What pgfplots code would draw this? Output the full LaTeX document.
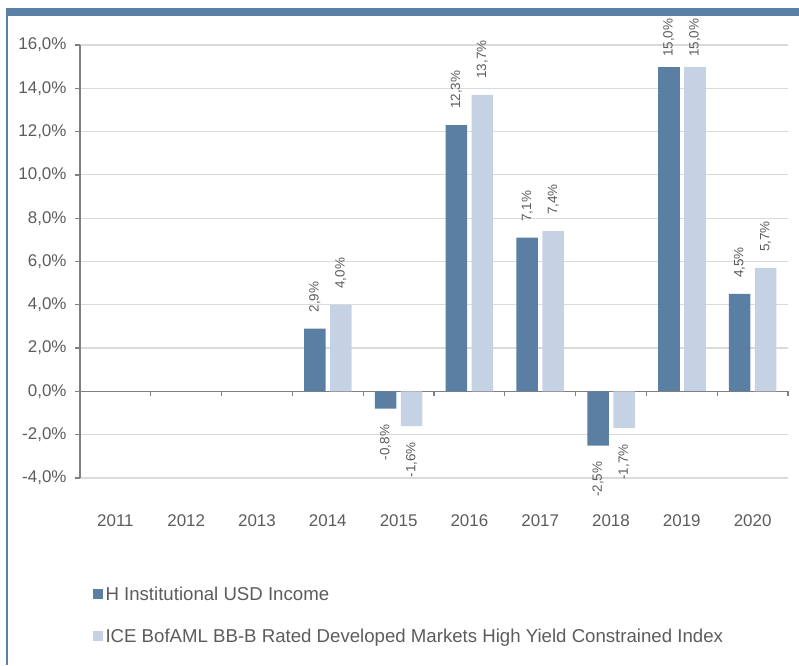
\documentclass[border=0pt]{standalone}
\usepackage{pgfplots}
\usepackage{pgfplotstable}
\pgfplotsset{compat=1.18}
\usepackage{fontspec}
\setmainfont{Liberation Sans}
\definecolor{darkbar}{RGB}{91,127,163}
\definecolor{lightbar}{RGB}{197,210,227}
\definecolor{txt}{RGB}{92,92,92}
\definecolor{gridc}{RGB}{218,218,218}
\definecolor{axc}{RGB}{128,128,128}
\definecolor{framec}{RGB}{91,128,165}

% fund, positive years
\pgfplotstableread{
x y lab
3 2.9 {2,9\%}
5 12.3 {12,3\%}
6 7.1 {7,1\%}
9 4.5 {4,5\%}
}\fundpos
% fund, 2019 (label squeezed under the top)
\pgfplotstableread{
x y lab
8 15.0 {15,0\%}
}\fundtop
% fund, negative years
\pgfplotstableread{
x y lab
4 -0.8 {-0,8\%}
7 -2.5 {-2,5\%}
}\fundneg
% index, positive years
\pgfplotstableread{
x y lab
3 4.0 {4,0\%}
5 13.7 {13,7\%}
6 7.4 {7,4\%}
9 5.7 {5,7\%}
}\idxpos
% index, 2019
\pgfplotstableread{
x y lab
8 15.0 {15,0\%}
}\idxtop
% index, negative years
\pgfplotstableread{
x y lab
4 -1.6 {-1,6\%}
7 -1.7 {-1,7\%}
}\idxneg

\pgfplotsset{
  vlab/.style 2 args={nodes near coords, point meta=explicit symbolic,
    every node near coord/.append style={rotate=90, anchor=#1, inner xsep=#2, inner ysep=0bp,
      font=\fontsize{13.5}{15}\selectfont, text=txt}},
}

\begin{document}
\begin{tikzpicture}
\path (0,0) rectangle (799bp,665bp);
\fill[framec] (6bp,649bp) rectangle (799bp,657bp);
\draw[framec, line width=2bp] (7bp,0) -- (7bp,657bp);
\begin{axis}[
  at={(80bp,187bp)}, anchor=south west,
  scale only axis, width=708bp, height=433bp,
  xmin=-0.5, xmax=9.5, ymin=-4, ymax=16,
  ybar, bar width=21.5bp,
  axis y line*=left, axis x line*=middle,
  axis line style={draw=axc, line width=1.3bp},
  hide obscured x ticks=false,
  xtick={-0.5,0.5,...,9.5},
  x tick label as interval,
  xticklabels={2011,2012,2013,2014,2015,2016,2017,2018,2019,2020},
  xticklabel style={anchor=center, yshift=-124bp, font=\fontsize{17}{20}\selectfont, text=txt},
  ytick={-4,-2,...,16},
  yticklabels={{-4,0\%},{-2,0\%},{0,0\%},{2,0\%},{4,0\%},{6,0\%},{8,0\%},{10,0\%},{12,0\%},{14,0\%},{16,0\%}},
  yticklabel style={font=\fontsize{17}{20}\selectfont, text=txt, xshift=-5bp},
  tick align=outside,
  major tick length=5bp,
  tick style={draw=axc, line width=1.3bp},
  ymajorgrids, xmajorgrids=false,
  grid style={draw=gridc, line width=1.2bp},
  legend image code/.code={\fill[#1] (0bp,-3bp) rectangle (10bp,7bp);},
  legend style={at={(axis description cs:0.0174,-0.2517)}, anchor=north west, draw=none, fill=none, inner sep=0pt,
    font=\fontsize{18.7}{21}\selectfont, text=txt, row sep=25bp,
    nodes={inner sep=0pt, text height=13bp, text depth=4bp},
    /tikz/every odd column/.style={column sep=3bp}},
  legend cell align=left,
]
\addplot[fill=darkbar, draw=none, bar shift=-13bp, vlab={west}{16bp}] table[x=x, y=y, meta=lab] {\fundpos};
\addlegendentry{H Institutional USD Income}
\addplot[fill=lightbar, draw=none, bar shift=13bp, vlab={west}{16bp}] table[x=x, y=y, meta=lab] {\idxpos};
\addlegendentry{ICE BofAML BB-B Rated Developed Markets High Yield Constrained Index}
\addplot[fill=darkbar, draw=none, bar shift=-13bp, vlab={east}{16bp}, forget plot] table[x=x, y=y, meta=lab] {\fundneg};
\addplot[fill=lightbar, draw=none, bar shift=13bp, vlab={east}{16bp}, forget plot] table[x=x, y=y, meta=lab] {\idxneg};
\addplot[fill=darkbar, draw=none, bar shift=-13bp, vlab={west}{9.5bp}, forget plot] table[x=x, y=y, meta=lab] {\fundtop};
\addplot[fill=lightbar, draw=none, bar shift=13bp, vlab={west}{9.5bp}, forget plot] table[x=x, y=y, meta=lab] {\idxtop};
\end{axis}
\end{tikzpicture}
\end{document}
